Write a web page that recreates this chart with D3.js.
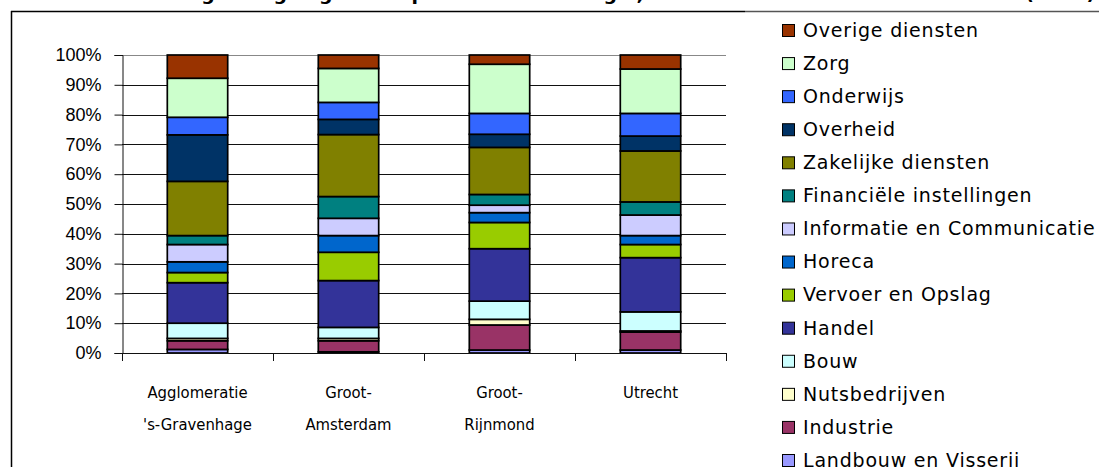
<!DOCTYPE html>
<html>
<head>
<meta charset="utf-8">
<script src="https://cdn.jsdelivr.net/npm/d3@7"></script>
<style>
  html, body { margin: 0; padding: 0; background: #fff; }
  svg { display: block; }
</style>
</head>
<body>
<svg id="chart" width="1099" height="467"></svg>
<script>
// Regions (x-axis categories, one array entry per line of the label)
const regions = ["Agglomeratie 's-Gravenhage", "Groot-Amsterdam", "Groot-Rijnmond", "Utrecht"];
const regionLines = [["Agglomeratie", "'s-Gravenhage"], ["Groot-", "Amsterdam"], ["Groot-", "Rijnmond"], ["Utrecht"]];

// Sectors, stacked from the bottom of each bar upwards
const sectors = [
  "Landbouw en Visserij", "Industrie", "Nutsbedrijven", "Bouw", "Handel",
  "Vervoer en Opslag", "Horeca", "Informatie en Communicatie",
  "Financiële instellingen", "Zakelijke diensten", "Overheid",
  "Onderwijs", "Zorg", "Overige diensten"
];

// Share of employment per sector (%), per region
const landbouw   = [1.2, 0.4, 1.0, 1.0];
const industrie  = [2.9, 3.7, 8.4, 6.0];
const nuts       = [0.8, 0.8, 1.9, 0.4];
const bouw       = [5.1, 3.7, 6.1, 6.4];
const handel     = [13.6, 15.7, 17.6, 18.2];
const vervoer    = [3.4, 9.5, 8.8, 4.4];
const horeca     = [3.6, 5.6, 3.3, 3.0];
const informatie = [5.8, 5.8, 2.5, 6.9];
const financieel = [3.0, 7.3, 3.6, 4.4];
const zakelijk   = [18.2, 20.8, 15.8, 17.1];
const overheid   = [15.6, 5.1, 4.4, 5.0];
const onderwijs  = [5.9, 5.7, 7.0, 7.6];
const zorg       = [13.1, 11.4, 16.5, 14.9];
const overig     = [7.8, 4.5, 3.1, 4.7];

const sectorValues = [landbouw, industrie, nuts, bouw, handel, vervoer, horeca,
  informatie, financieel, zakelijk, overheid, onderwijs, zorg, overig];

const sectorColors = [
  "#9999FF", "#993366", "#FFFFCC", "#CCFFFF", "#333399",
  "#99CC00", "#0066CC", "#CCCCFF", "#008080", "#808000",
  "#003366", "#3366FF", "#CCFFCC", "#993300"
];

const yTicks = [0, 10, 20, 30, 40, 50, 60, 70, 80, 90, 100];

const title = "Verdeling werkgelegenheid per sector naar regio, aandeel in het totale aantal banen (2006)";

// Build the table the stack layout needs
const table = regions.map((r, i) => {
  const row = { region: r };
  sectors.forEach((s, j) => { row[s] = sectorValues[j][i]; });
  return row;
});

const svg = d3.select("#chart");

// Chart frame
svg.append("line").attr("x1", 11.5).attr("x2", 11.5).attr("y1", 11).attr("y2", 467)
  .attr("stroke", "#000").attr("stroke-width", 1.5);
svg.append("line").attr("x1", 11).attr("x2", 745).attr("y1", 11.5).attr("y2", 11.5)
  .attr("stroke", "#000").attr("stroke-width", 1.5);
svg.append("line").attr("x1", 745).attr("x2", 1099).attr("y1", 11.5).attr("y2", 11.5)
  .attr("stroke", "#555").attr("stroke-width", 1.5);

// Title (runs off the top edge of the page)
svg.append("text")
  .attr("x", 113).attr("y", 0)
  .attr("textLength", 982)
  .attr("lengthAdjust", "spacingAndGlyphs")
  .attr("font-family", "DejaVu Sans, Verdana, sans-serif")
  .attr("font-weight", "bold")
  .attr("font-size", 17)
  .attr("fill", "#000")
  .text(title);

const plot = { left: 122, right: 726, top: 55, bottom: 353 };

const x = d3.scaleBand()
  .domain(regions)
  .range([plot.left, plot.right])
  .paddingInner(0.6)
  .paddingOuter(0.3);

const xBoundary = d3.scaleBand()
  .domain(regions)
  .range([plot.left, plot.right]);

const y = d3.scaleLinear().domain([0, 100]).range([plot.bottom, plot.top]);

// Gridlines
svg.append("g")
  .selectAll("line")
  .data(yTicks.filter(t => t > 0))
  .join("line")
  .attr("x1", plot.left).attr("x2", plot.right)
  .attr("y1", d => Math.round(y(d)) + 0.5).attr("y2", d => Math.round(y(d)) + 0.5)
  .attr("stroke", d => d === 100 ? "#888" : "#111")
  .attr("stroke-width", 1);

// Y axis
const yAxis = d3.axisLeft(y)
  .tickValues(yTicks)
  .tickFormat(d => d + "%")
  .tickSize(8)
  .tickPadding(13);

const yg = svg.append("g")
  .attr("transform", `translate(${plot.left + 0.5},0)`)
  .call(yAxis);
yg.select(".domain").attr("stroke", "#111");
yg.selectAll(".tick line").attr("stroke", "#111");
yg.selectAll(".tick text")
  .attr("font-family", "Liberation Sans, Arial, sans-serif")
  .attr("font-size", 18)
  .attr("fill", "#000");

// Stacked bars
const stack = d3.stack().keys(sectors);
const series = stack(table);

svg.append("g")
  .selectAll("g")
  .data(series)
  .join("g")
  .attr("fill", (d, i) => sectorColors[i])
  .selectAll("rect")
  .data(d => d)
  .join("rect")
  .attr("x", d => x(d.data.region))
  .attr("width", x.bandwidth())
  .attr("y", d => y(d[1]))
  .attr("height", d => y(d[0]) - y(d[1]))
  .attr("stroke", "#000")
  .attr("stroke-width", 1.7);

// X axis with category boundary ticks
svg.append("line")
  .attr("x1", plot.left).attr("x2", plot.right)
  .attr("y1", plot.bottom + 0.5).attr("y2", plot.bottom + 0.5)
  .attr("stroke", "#111");

const boundaries = regions.map(r => xBoundary(r)).concat([plot.right]);
svg.append("g")
  .selectAll("line")
  .data(boundaries)
  .join("line")
  .attr("x1", d => Math.round(d) + 0.5).attr("x2", d => Math.round(d) + 0.5)
  .attr("y1", plot.bottom).attr("y2", plot.bottom + 8)
  .attr("stroke", "#111");

// Category labels
const catG = svg.append("g")
  .selectAll("text")
  .data(regions)
  .join("text")
  .attr("text-anchor", "middle")
  .attr("font-family", "DejaVu Sans Condensed, DejaVu Sans, sans-serif")
  .attr("font-size", 16.5)
  .attr("fill", "#000")
  .attr("x", d => x(d) + x.bandwidth() / 2)
  .attr("y", 398);
catG.each(function (d, i) {
  d3.select(this).selectAll("tspan")
    .data(regionLines[i])
    .join("tspan")
    .attr("x", x(d) + x.bandwidth() / 2)
    .attr("dy", (t, k) => k === 0 ? 0 : 32)
    .text(t => t);
});

// Legend, top entry = top of the stack
const legendItems = sectors.map((s, i) => ({ name: s, color: sectorColors[i] })).reverse();
const legendY = d3.scalePoint()
  .domain(legendItems.map(d => d.name))
  .range([30, 460]);

const lg = svg.append("g")
  .selectAll("g")
  .data(legendItems)
  .join("g")
  .attr("transform", d => `translate(0,${legendY(d.name)})`);

lg.append("rect")
  .attr("x", 782.5).attr("y", -5.5)
  .attr("width", 12).attr("height", 12)
  .attr("fill", d => d.color)
  .attr("stroke", "#000")
  .attr("stroke-width", 1);

lg.append("text")
  .attr("x", 803)
  .attr("y", 0)
  .attr("dy", "0.36em")
  .attr("font-family", "DejaVu Sans, Verdana, sans-serif")
  .attr("font-size", 19)
  .attr("letter-spacing", 0.8)
  .attr("fill", "#000")
  .text(d => d.name);
</script>
</body>
</html>
